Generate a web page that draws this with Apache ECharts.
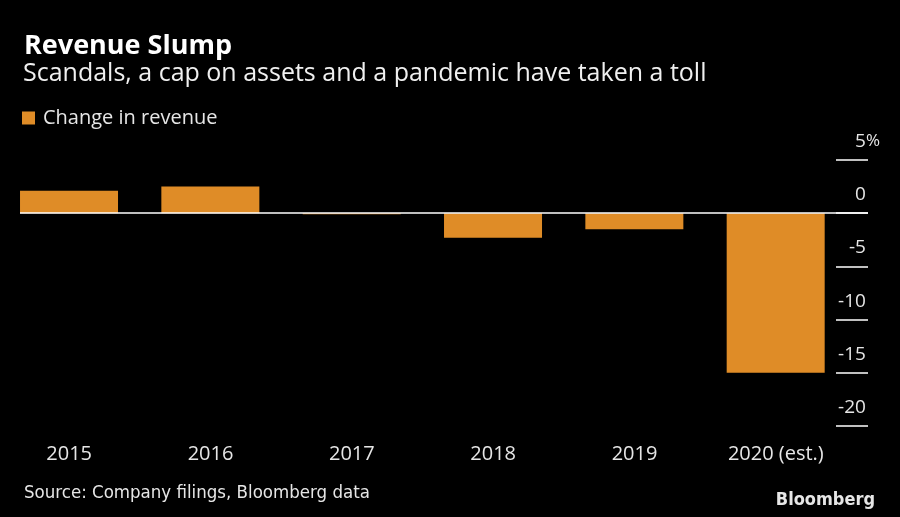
<!DOCTYPE html>
<html><head><meta charset="utf-8">
<script src="https://cdn.jsdelivr.net/npm/echarts@6/dist/echarts.min.js"></script>
<style>html,body{margin:0;padding:0;background:#000}#c{width:900px;height:517px}</style>
</head><body><div id="c"></div>
<script>
const categories = ['2015', '2016', '2017', '2018', '2019', '2020 (est.)'];
const revenueChange = [2.1, 2.5, -0.1, -2.3, -1.5, -15.0];
const seriesName = 'Change in revenue';
const yTicks = { min: -20, max: 5, interval: 5 };

const FONT = '"Open Sans", "Noto Sans", sans-serif';
const NARROW = '"Liberation Sans Narrow", "DejaVu Sans Condensed", sans-serif';
const chart = echarts.init(document.getElementById('c'));
chart.setOption({
  backgroundColor: '#000',
  animation: false,
  textStyle: { fontFamily: FONT },
  title: [
    { text: 'Revenue Slump', left: 19, top: 28, textStyle: { color: '#fff', fontSize: 27, fontWeight: 'bold', fontFamily: FONT } },
    { text: 'Scandals, a cap on assets and a pandemic have taken a toll', left: 18, top: 56, textStyle: { color: '#f0f0f0', fontSize: 25, fontWeight: 'normal', fontFamily: FONT } },
    { text: 'Source: Company filings, Bloomberg data', left: 19, top: 479, textStyle: { color: '#e6e6e6', fontSize: 18.5, fontWeight: 'normal', fontFamily: NARROW } },
    { text: 'Bloomberg', right: 20, top: 486, textStyle: { color: '#e6e6e6', fontSize: 18, fontWeight: 'bold', fontFamily: NARROW } }
  ],
  legend: {
    data: [seriesName], left: 17, top: 103, icon: 'rect', itemWidth: 13, itemHeight: 13, itemGap: 8,
    textStyle: { color: '#e6e6e6', fontSize: 20, fontFamily: FONT, padding: [0, 0, 0, 3] }
  },
  grid: { left: 20, right: 32, top: 160, bottom: 91, containLabel: false },
  xAxis: {
    type: 'category', data: categories, position: 'bottom',
    axisLine: { show: false, onZero: false }, axisTick: { show: false },
    axisLabel: { color: '#e6e6e6', fontSize: 20, margin: 18, padding: [0, 43, 0, 0], fontFamily: FONT }
  },
  yAxis: {
    type: 'value', position: 'right', min: yTicks.min, max: yTicks.max, interval: yTicks.interval,
    splitLine: { show: false }, axisLine: { show: false },
    axisTick: { show: true, inside: true, length: 32, lineStyle: { color: '#fff', width: 1.5 } },
    axisLabel: {
      color: '#e6e6e6', fontSize: 19, margin: 12, align: 'right', verticalAlign: 'bottom',
      padding: [0, 0, 9, 0], fontFamily: FONT,
      formatter: v => v === yTicks.max ? v + '{p|%}' : v + '{h|%}',
      rich: {
        p: { color: '#e6e6e6', fontSize: 17, fontFamily: FONT },
        h: { color: 'rgba(0,0,0,0)', fontSize: 17, fontFamily: FONT }
      }
    }
  },
  series: [
    {
      name: seriesName, type: 'bar', data: revenueChange, barWidth: 98, barGap: '0%', barCategoryGap: 0,
      itemStyle: { color: '#DF8C27' },
      markLine: {
        silent: true, symbol: 'none', label: { show: false },
        lineStyle: { color: '#fff', width: 1.5, type: 'solid' },
        data: [{ yAxis: 0 }], z: 5
      }
    },
    { name: 'spacer', type: 'bar', data: categories.map(() => null), barWidth: 43.3, barGap: '0%' }
  ]
});
</script></body></html>
